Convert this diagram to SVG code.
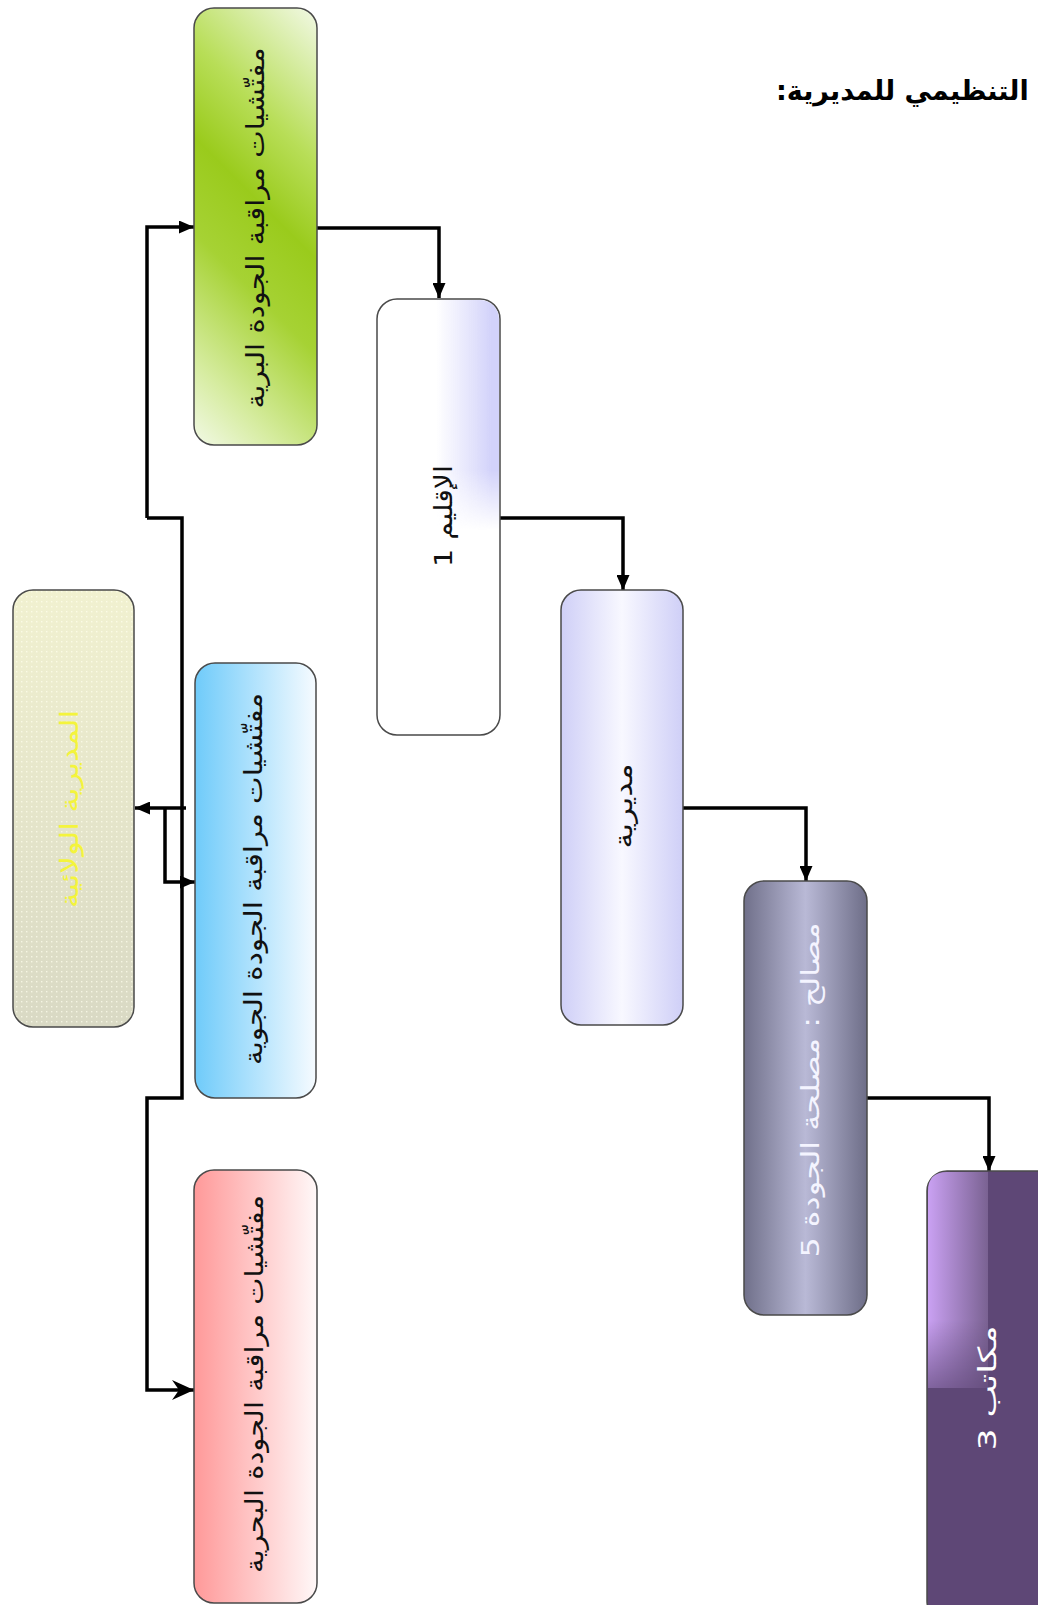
<svg xmlns="http://www.w3.org/2000/svg" width="1038" height="1605" viewBox="0 0 1038 1605">
<style>
.box{stroke:#4a4a4a;stroke-width:1.5}
.conn{fill:none;stroke:#000;stroke-width:3.5;stroke-linejoin:miter}
.t{font-family:"DejaVu Sans",sans-serif;font-size:25px;text-anchor:middle;dominant-baseline:central}
.title{font-family:"DejaVu Sans",sans-serif;font-size:27px;font-weight:bold;fill:#000}
</style>
<defs>
<marker id="arr" markerUnits="userSpaceOnUse" markerWidth="15" markerHeight="13" refX="15" refY="6.5" orient="auto">
<path d="M0,0 L15,6.5 L0,13 z" fill="#000"/>
</marker>
<marker id="stealth" markerUnits="userSpaceOnUse" markerWidth="22" markerHeight="20" refX="22" refY="10" orient="auto">
<path d="M0,0 L22,10 L0,20 L7,10 z" fill="#000"/>
</marker>
<linearGradient id="gGreen" gradientUnits="userSpaceOnUse" x1="317" y1="8" x2="37" y2="288">
<stop offset="0" stop-color="#f2f9e6"/>
<stop offset="0.28" stop-color="#b8de58"/>
<stop offset="0.45" stop-color="#9acb1c"/>
<stop offset="0.62" stop-color="#a6d234"/>
<stop offset="0.85" stop-color="#d6eca0"/>
<stop offset="1" stop-color="#f2f9e6"/>
</linearGradient>
<linearGradient id="gBlue" x1="0" y1="0" x2="1" y2="0">
<stop offset="0" stop-color="#6fcbfa"/>
<stop offset="1" stop-color="#f6fbff"/>
</linearGradient>
<linearGradient id="gRed" x1="0" y1="0" x2="1" y2="0">
<stop offset="0" stop-color="#ff9999"/>
<stop offset="1" stop-color="#fff8f8"/>
</linearGradient>
<linearGradient id="gWil" x1="0" y1="0" x2="0" y2="1">
<stop offset="0" stop-color="#f1f1d0"/>
<stop offset="1" stop-color="#d9d9c4"/>
</linearGradient>
<pattern id="dots" patternUnits="userSpaceOnUse" width="5" height="5">
<rect x="1" y="1" width="1.4" height="1.4" fill="#fffff0" opacity="0.7"/>
</pattern>
<linearGradient id="gIqH" gradientUnits="userSpaceOnUse" x1="436" y1="0" x2="492" y2="0">
<stop offset="0" stop-color="#d6d6fb" stop-opacity="0"/>
<stop offset="1" stop-color="#d2d2fa" stop-opacity="1"/>
</linearGradient>
<linearGradient id="gIqV" gradientUnits="userSpaceOnUse" x1="0" y1="470" x2="0" y2="530">
<stop offset="0" stop-color="#fff"/>
<stop offset="1" stop-color="#000"/>
</linearGradient>
<mask id="mIq"><rect x="370" y="290" width="140" height="450" fill="url(#gIqV)"/></mask>
<linearGradient id="gMud" x1="0" y1="0" x2="1" y2="0">
<stop offset="0" stop-color="#cfcff7"/>
<stop offset="0.5" stop-color="#f8f8ff"/>
<stop offset="1" stop-color="#cfcff7"/>
</linearGradient>
<linearGradient id="gMas" x1="0" y1="0" x2="1" y2="0">
<stop offset="0" stop-color="#70708a"/>
<stop offset="0.5" stop-color="#b9b9d6"/>
<stop offset="1" stop-color="#6e6e88"/>
</linearGradient>
<linearGradient id="gMakH" gradientUnits="userSpaceOnUse" x1="927" y1="0" x2="988" y2="0">
<stop offset="0" stop-color="#cba2f4"/>
<stop offset="1" stop-color="#7a6292"/>
</linearGradient>
<linearGradient id="gMakV" gradientUnits="userSpaceOnUse" x1="0" y1="1320" x2="0" y2="1388">
<stop offset="0" stop-color="#fff"/>
<stop offset="1" stop-color="#555"/>
</linearGradient>
<mask id="mMak"><rect x="920" y="1160" width="80" height="240" fill="url(#gMakV)"/></mask>
</defs>

<rect width="1038" height="1605" fill="#fff"/>

<text class="title" x="776" y="100" direction="rtl" text-anchor="end">التنظيمي للمديرية:</text>

<g id="connectors">
<path class="conn" d="M317,228 H439 V298" marker-end="url(#arr)"/>
<path class="conn" d="M500,518 H623 V590" marker-end="url(#arr)"/>
<path class="conn" d="M683,808 H806 V881" marker-end="url(#arr)"/>
<path class="conn" d="M867,1098 H989 V1171" marker-end="url(#arr)"/>
<path class="conn" d="M147,518 V227 H194" marker-end="url(#arr)"/>
<path class="conn" d="M147,518 H182 V1098 H147 V1390 H194" marker-end="url(#stealth)"/>
<path class="conn" d="M186,808 H135" marker-end="url(#arr)"/>
<path class="conn" d="M165,808 V882 H195" marker-end="url(#arr)"/>
</g>

<g id="node-land">
<rect class="box" x="194" y="8" width="123" height="437" rx="20" fill="url(#gGreen)"/>
<text class="t" transform="translate(255,228) rotate(-90)" direction="rtl" fill="#111" textLength="361" lengthAdjust="spacingAndGlyphs">مفتّشيات مراقبة الجودة البرية</text>
</g>

<g id="node-air">
<rect class="box" x="195" y="663" width="121" height="435" rx="20" fill="url(#gBlue)"/>
<text class="t" transform="translate(253,879) rotate(-90)" direction="rtl" fill="#111" textLength="372" lengthAdjust="spacingAndGlyphs">مفتّشيات مراقبة الجودة الجوية</text>
</g>

<g id="node-sea">
<rect class="box" x="194" y="1170" width="123" height="433" rx="20" fill="url(#gRed)"/>
<text class="t" transform="translate(254,1384) rotate(-90)" direction="rtl" fill="#111" textLength="378" lengthAdjust="spacingAndGlyphs">مفتّشيات مراقبة الجودة البحرية</text>
</g>

<g id="node-wilaya">
<rect class="box" x="13" y="590" width="121" height="437" rx="20" fill="url(#gWil)"/>
<rect x="14" y="591" width="119" height="435" rx="19" fill="url(#dots)"/>
<text class="t" transform="translate(69,809) rotate(-90)" direction="rtl" fill="#f4f43c" textLength="198" lengthAdjust="spacingAndGlyphs">المديرية الولائية</text>
</g>

<g id="node-iqlim">
<rect class="box" x="377" y="299" width="123" height="436" rx="20" fill="#fff"/>
<rect x="378" y="300" width="121" height="434" rx="19" fill="url(#gIqH)" mask="url(#mIq)"/>
<text class="t" transform="translate(443,516) rotate(-90)" direction="rtl" fill="#111" textLength="102" lengthAdjust="spacingAndGlyphs">الإقليم 1</text>
</g>

<g id="node-mudiriya">
<rect class="box" x="561" y="590" width="122" height="435" rx="20" fill="url(#gMud)"/>
<text class="t" transform="translate(623,806) rotate(-90)" direction="rtl" fill="#111" textLength="85" lengthAdjust="spacingAndGlyphs">مديرية</text>
</g>

<g id="node-masalih">
<rect class="box" x="744" y="881" width="123" height="434" rx="20" fill="url(#gMas)"/>
<text class="t" transform="translate(810,1090) rotate(-90)" direction="rtl" fill="#f4f4ff" textLength="335" lengthAdjust="spacingAndGlyphs">مصالح : مصلحة الجودة 5</text>
</g>

<g id="node-makatib">
<rect class="box" x="927" y="1171" width="140" height="450" rx="20" fill="#5e4776"/>
<path d="M928,1388 V1191 Q928,1172 947,1172 H988 V1388 Z" fill="url(#gMakH)" mask="url(#mMak)"/>
<text class="t" transform="translate(987,1388) rotate(-90)" direction="rtl" fill="#fff" textLength="125" lengthAdjust="spacingAndGlyphs">مكاتب 3</text>
</g>
</svg>
